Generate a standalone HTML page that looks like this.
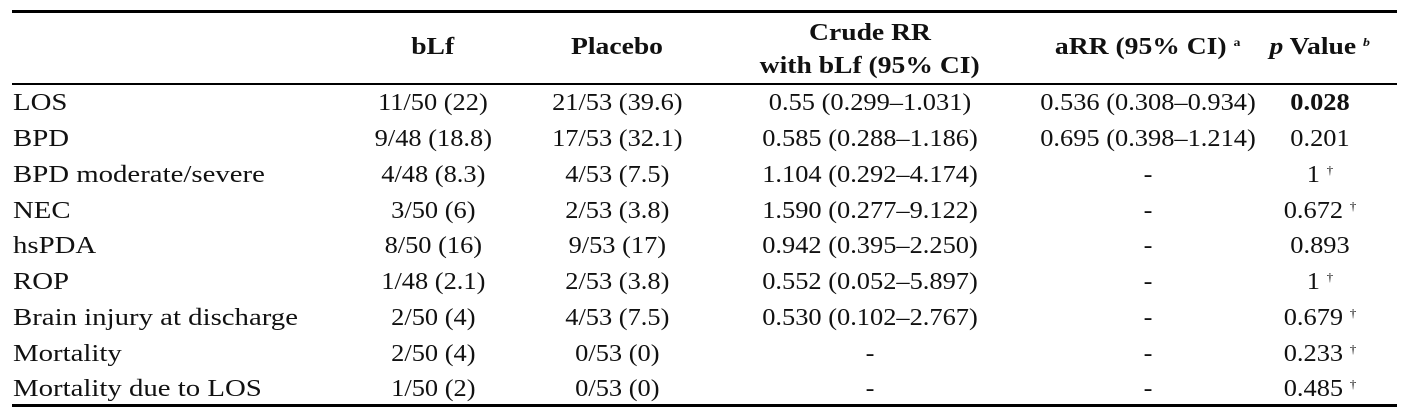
<!DOCTYPE html>
<html><head><meta charset="utf-8"><style>
body{margin:0;width:1414px;height:414px;background:#fff;position:relative;overflow:hidden;font-family:"Liberation Serif",serif;font-size:24px;color:#111}
.r{position:absolute;left:0;width:1414px;height:30px;line-height:30px}
.c{position:absolute;top:0;text-align:center;white-space:nowrap;line-height:30px}
.c span{display:inline-block;transform:scaleX(1.1);transform-origin:center}
.h .c span{transform:scaleX(1.15)}
.l{left:13px;text-align:left}
.c.l span{transform-origin:left;transform:scaleX(1.2)}
.c1{left:333px;width:200px}.c2{left:517px;width:200px}.c3{left:720px;width:300px}.c4{left:1000px;width:296px}.c5{left:1250px;width:140px}
.hr{position:absolute;left:12px;width:1385px;background:#000}
b{font-weight:bold}
sup{font-size:12px;vertical-align:8px;line-height:0}
</style></head><body>
<div class="hr" style="top:10px;height:3px"></div>
<div class="hr" style="top:83px;height:2px"></div>
<div class="hr" style="top:404px;height:3px"></div>
<div class="r h" style="top:32px;font-weight:bold">
<div class="c c1"><span>bLf</span></div>
<div class="c c2"><span>Placebo</span></div>
<div class="c c4"><span>aRR (95% CI) <sup>a</sup></span></div>
<div class="c c5"><span><i>p</i> Value <sup><i>b</i></sup></span></div>
</div>
<div class="r h" style="top:18px;font-weight:bold"><div class="c c3"><span>Crude RR</span></div></div>
<div class="r h" style="top:51px;font-weight:bold"><div class="c c3"><span>with bLf (95% CI)</span></div></div>

<div class="r" style="top:88px"><div class="c l"><span>LOS</span></div><div class="c c1"><span>11/50 (22)</span></div><div class="c c2"><span>21/53 (39.6)</span></div><div class="c c3"><span>0.55 (0.299–1.031)</span></div><div class="c c4"><span>0.536 (0.308–0.934)</span></div><div class="c c5"><span><b>0.028</b></span></div></div>
<div class="r" style="top:124px"><div class="c l"><span>BPD</span></div><div class="c c1"><span>9/48 (18.8)</span></div><div class="c c2"><span>17/53 (32.1)</span></div><div class="c c3"><span>0.585 (0.288–1.186)</span></div><div class="c c4"><span>0.695 (0.398–1.214)</span></div><div class="c c5"><span>0.201</span></div></div>
<div class="r" style="top:160px"><div class="c l"><span>BPD moderate/severe</span></div><div class="c c1"><span>4/48 (8.3)</span></div><div class="c c2"><span>4/53 (7.5)</span></div><div class="c c3"><span>1.104 (0.292–4.174)</span></div><div class="c c4"><span>-</span></div><div class="c c5"><span>1 <sup>†</sup></span></div></div>
<div class="r" style="top:196px"><div class="c l"><span>NEC</span></div><div class="c c1"><span>3/50 (6)</span></div><div class="c c2"><span>2/53 (3.8)</span></div><div class="c c3"><span>1.590 (0.277–9.122)</span></div><div class="c c4"><span>-</span></div><div class="c c5"><span>0.672 <sup>†</sup></span></div></div>
<div class="r" style="top:231px"><div class="c l"><span>hsPDA</span></div><div class="c c1"><span>8/50 (16)</span></div><div class="c c2"><span>9/53 (17)</span></div><div class="c c3"><span>0.942 (0.395–2.250)</span></div><div class="c c4"><span>-</span></div><div class="c c5"><span>0.893</span></div></div>
<div class="r" style="top:267px"><div class="c l"><span>ROP</span></div><div class="c c1"><span>1/48 (2.1)</span></div><div class="c c2"><span>2/53 (3.8)</span></div><div class="c c3"><span>0.552 (0.052–5.897)</span></div><div class="c c4"><span>-</span></div><div class="c c5"><span>1 <sup>†</sup></span></div></div>
<div class="r" style="top:303px"><div class="c l"><span>Brain injury at discharge</span></div><div class="c c1"><span>2/50 (4)</span></div><div class="c c2"><span>4/53 (7.5)</span></div><div class="c c3"><span>0.530 (0.102–2.767)</span></div><div class="c c4"><span>-</span></div><div class="c c5"><span>0.679 <sup>†</sup></span></div></div>
<div class="r" style="top:339px"><div class="c l"><span>Mortality</span></div><div class="c c1"><span>2/50 (4)</span></div><div class="c c2"><span>0/53 (0)</span></div><div class="c c3"><span>-</span></div><div class="c c4"><span>-</span></div><div class="c c5"><span>0.233 <sup>†</sup></span></div></div>
<div class="r" style="top:374px"><div class="c l"><span>Mortality due to LOS</span></div><div class="c c1"><span>1/50 (2)</span></div><div class="c c2"><span>0/53 (0)</span></div><div class="c c3"><span>-</span></div><div class="c c4"><span>-</span></div><div class="c c5"><span>0.485 <sup>†</sup></span></div></div>
</body></html>
